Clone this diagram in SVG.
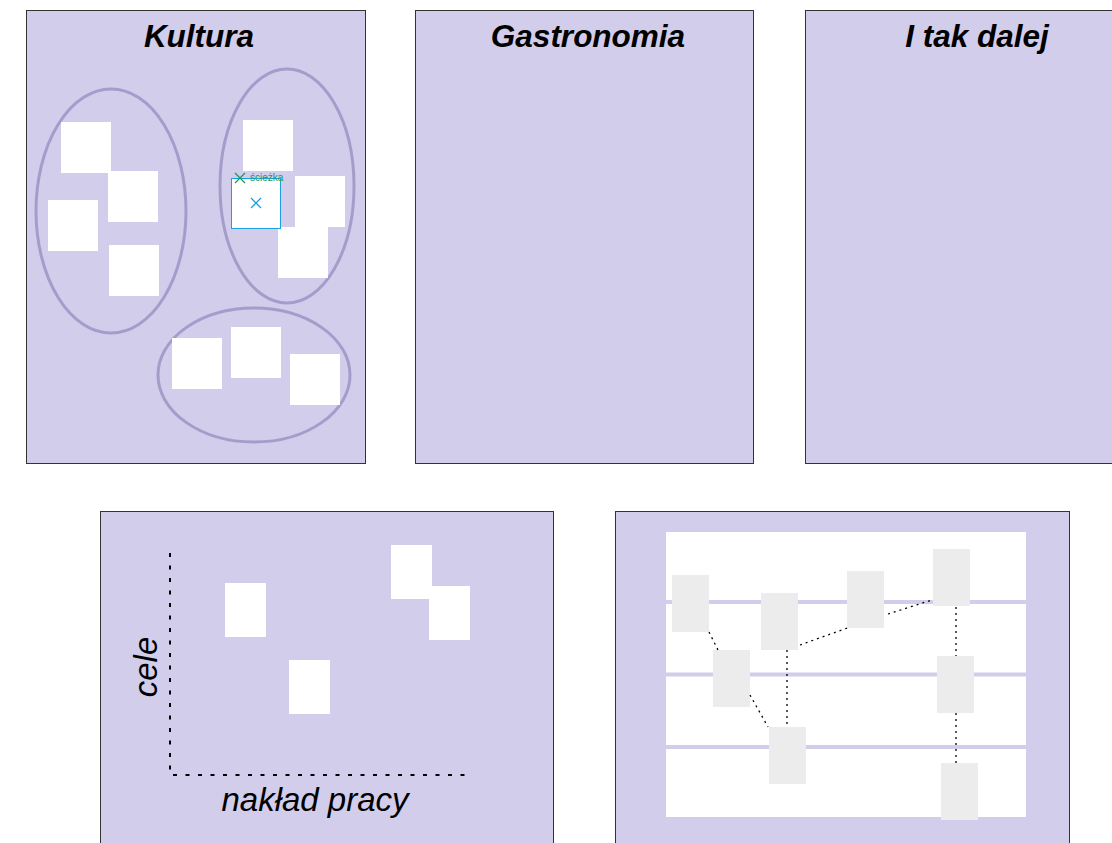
<svg xmlns="http://www.w3.org/2000/svg" width="1112" height="843" viewBox="0 0 1112 843">
<style>
.panel{fill:#d2cdea;stroke:#333;stroke-width:1}
.title{font-family:"Liberation Sans",Arial,sans-serif;font-weight:bold;font-style:italic;font-size:31.5px;fill:#000;text-anchor:middle}
.grp{fill:none;stroke:#a49dcc;stroke-width:3}
.card{fill:#fff}
.gcard{fill:#ececec}
.axis{fill:none;stroke:#000;stroke-width:2;stroke-dasharray:4,8.5}
.lbl{font-family:"Liberation Sans",Arial,sans-serif;font-style:italic;font-size:33px;fill:#000;text-anchor:middle}
.row{stroke:#d2cdea;stroke-width:4}
.link{fill:none;stroke:#000;stroke-width:1.3;stroke-dasharray:2,4}
</style>
<rect width="1112" height="843" fill="#fff"/>
<g id="kultura">
<rect class="panel" x="26.5" y="10.5" width="339" height="453"/>
<text class="title" x="199" y="47">Kultura</text>
<ellipse class="grp" cx="111" cy="211" rx="75" ry="122"/>
<ellipse class="grp" cx="287" cy="186" rx="67" ry="117"/>
<ellipse class="grp" cx="254" cy="375" rx="96" ry="67"/>
<rect class="card" x="61" y="122" width="50" height="51"/>
<rect class="card" x="108" y="171" width="50" height="51"/>
<rect class="card" x="48" y="200" width="50" height="51"/>
<rect class="card" x="109" y="245" width="50" height="51"/>
<rect class="card" x="243" y="120" width="50" height="51"/>
<rect class="card" x="295" y="176" width="50" height="51"/>
<rect class="card" x="278" y="227" width="50" height="51"/>
<rect class="card" x="172" y="338" width="50" height="51"/>
<rect class="card" x="231" y="327" width="50" height="51"/>
<rect class="card" x="290" y="354" width="50" height="51"/>
<g id="selected">
<rect x="231.5" y="178.5" width="49" height="50" fill="#fff" stroke="#1ba1e2" stroke-width="1"/>
<path d="M251 198l10 10M261 198l-10 10" stroke="#1ba1e2" stroke-width="1.3" fill="none"/>
<path d="M235 173l10 10M245 173l-10 10" stroke="#1a9a5a" stroke-width="1.3" fill="none"/>
<text x="250" y="181" font-family="Liberation Sans,Arial,sans-serif" font-size="10" fill="#1a9a5a">ścieżka</text>
</g>
</g>
<g id="gastronomia">
<rect class="panel" x="415.5" y="10.5" width="338" height="453"/>
<text class="title" x="588" y="47">Gastronomia</text>
</g>
<g id="itakdalej">
<rect class="panel" x="805.5" y="10.5" width="320" height="453"/>
<text class="title" x="977" y="47">I tak dalej</text>
</g>
<g id="wykres">
<rect class="panel" x="100.5" y="511.5" width="453" height="340"/>
<rect class="card" x="225" y="583" width="41" height="54"/>
<rect class="card" x="391" y="545" width="41" height="54"/>
<rect class="card" x="429" y="586" width="41" height="54"/>
<rect class="card" x="289" y="660" width="41" height="54"/>
<text class="lbl" transform="translate(157,667) rotate(-90)">cele</text>
<text class="lbl" x="315" y="811">nakład pracy</text>
</g>
<g id="tablica">
<rect class="panel" x="615.5" y="511.5" width="454" height="340"/>
<rect class="card" x="666" y="532" width="360" height="285"/>
<line class="row" x1="666" y1="602" x2="1026" y2="602"/>
<line class="row" x1="666" y1="674.5" x2="1026" y2="674.5"/>
<line class="row" x1="666" y1="747" x2="1026" y2="747"/>
<rect class="gcard" x="672" y="575" width="37" height="57"/>
<rect class="gcard" x="761" y="593" width="37" height="57"/>
<rect class="gcard" x="847" y="571" width="37" height="57"/>
<rect class="gcard" x="933" y="549" width="37" height="57"/>
<rect class="gcard" x="713" y="650" width="37" height="57"/>
<rect class="gcard" x="937" y="656" width="37" height="57"/>
<rect class="gcard" x="769" y="727" width="37" height="57"/>
<rect class="gcard" x="941" y="763" width="37" height="57"/>
</g>
<g id="connectors">
<path class="axis" d="M170 553V775H468"/>
<path class="link" d="M709 632L718 650"/>
<path class="link" d="M750 695L768 727"/>
<path class="link" d="M787 650V727"/>
<path class="link" d="M800 645L850 627"/>
<path class="link" d="M888 614L932 600"/>
<path class="link" d="M956 607V656"/>
<path class="link" d="M956 713V763"/>
</g>
</svg>
